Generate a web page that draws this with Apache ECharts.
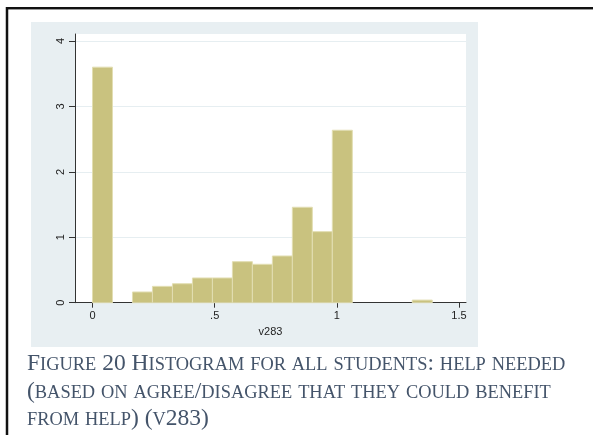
<!DOCTYPE html>
<html>
<head>
<meta charset="utf-8">
<script src="https://cdn.jsdelivr.net/npm/echarts@6/dist/echarts.min.js"></script>
<style>
  html, body { margin: 0; padding: 0; background: #fff; }
  #wrap { position: relative; width: 593px; height: 435px; overflow: hidden; }
  #chart { position: absolute; left: 0; top: 0; width: 593px; height: 435px; }
  #caption {
    position: absolute; left: 27px; top: 350px; width: 566px;
    font-family: "Liberation Serif", "DejaVu Serif", serif;
    font-size: 23.5px; line-height: 25.5px;
    color: #44546a; white-space: nowrap;
  }
  #caption .sc { font-size: 18.4px; }
</style>
</head>
<body>
<div id="wrap">
  <div id="chart"></div>
  <div id="caption"></div>
</div>
<script>
// ---- data ----
const binWidth = 0.0818;
const density = [3.60, 0, 0.164, 0.25, 0.29, 0.378, 0.378, 0.627, 0.587, 0.714, 1.459, 1.086, 2.636, 0, 0, 0, 0.04];
const xTicks = [0, 0.5, 1, 1.5];
const xTickLabels = ['0', '.5', '1', '1.5'];
const yTicks = [0, 1, 2, 3, 4];
const yTickLabels = ['0', '1', '2', '3', '4'];
const xName = 'v283';
const captionLines = [
  'Figure 20 Histogram for all students: help needed',
  '(based on agree/disagree that they could benefit',
  'from help) (v283)'
];

// small-caps caption (lowercase letters shown as smaller capitals)
const cap = document.getElementById('caption');
cap.innerHTML = captionLines.map(line => {
  let out = '';
  for (const ch of line) {
    if (ch >= 'a' && ch <= 'z') out += '<span class="sc">' + ch.toUpperCase() + '</span>';
    else out += ch;
  }
  return out;
}).join('<br>');

const bins = [];
density.forEach((d, i) => { if (d > 0) bins.push([i * binWidth, (i + 1) * binWidth, d]); });

const chart = echarts.init(document.getElementById('chart'), null, { renderer: 'canvas' });
const tickFont = { fontFamily: 'Liberation Sans, Arial, sans-serif', fontSize: 11, color: '#222' };

chart.setOption({
  animation: false,
  graphic: [
    { type: 'rect', z: -100, shape: { x: 31, y: 22, width: 447, height: 325 }, style: { fill: '#e8eff2' } },
    { type: 'line', shape: { x1: 6, y1: 8, x2: 593, y2: 8 }, style: { stroke: '#111', lineWidth: 2 } },
    { type: 'line', shape: { x1: 6, y1: 9.5, x2: 593, y2: 9.5 }, style: { stroke: '#999', lineWidth: 1 } },
    { type: 'line', shape: { x1: 7, y1: 7, x2: 7, y2: 435 }, style: { stroke: '#111', lineWidth: 2.5 } }
  ],
  grid: {
    left: 75, right: 127, top: 34, bottom: 132.3,
    show: true, backgroundColor: '#ffffff', borderWidth: 0
  },
  xAxis: {
    type: 'value', min: -0.0716, max: 1.5287,
    name: xName, nameLocation: 'middle', nameGap: 19,
    nameTextStyle: tickFont,
    axisLine: { show: true, onZero: false, lineStyle: { color: '#333', width: 1 } },
    axisTick: { show: true, length: 5, customValues: xTicks, lineStyle: { color: '#333' } },
    axisLabel: { customValues: xTicks, margin: 8, ...tickFont,
      formatter: v => xTickLabels[xTicks.indexOf(v)] },
    splitLine: { show: false }
  },
  yAxis: {
    type: 'value', min: 0, max: 4.107,
    axisLine: { show: true, onZero: false, lineStyle: { color: '#333', width: 1 } },
    axisTick: { show: true, length: 6, customValues: yTicks, lineStyle: { color: '#333' } },
    axisLabel: { customValues: yTicks, rotate: 90, margin: 9, ...tickFont,
      formatter: v => yTickLabels[yTicks.indexOf(v)] },
    splitLine: { show: true, lineStyle: { color: '#e6eef1', width: 1 } }
  },
  series: [{
    type: 'custom',
    data: bins,
    encode: { x: [0, 1], y: 2 },
    renderItem: function (params, api) {
      const p0 = api.coord([api.value(0), api.value(2)]);
      const p1 = api.coord([api.value(1), 0]);
      return {
        type: 'rect',
        shape: { x: p0[0], y: p0[1], width: p1[0] - p0[0], height: p1[1] - p0[1] },
        style: { fill: '#c9c27f', stroke: '#e2deb2', lineWidth: 1 }
      };
    }
  }]
});
</script>
</body>
</html>
